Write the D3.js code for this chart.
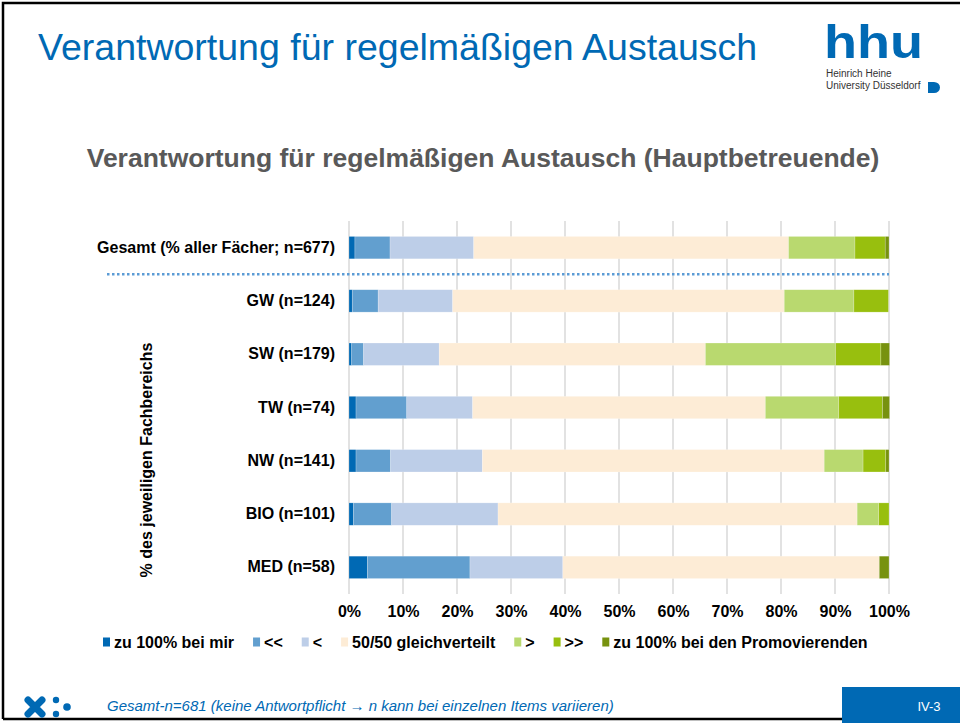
<!DOCTYPE html>
<html>
<head>
<meta charset="utf-8">
<script src="https://cdn.jsdelivr.net/npm/d3@7"></script>
<style>
  body { margin: 0; background: #fff; }
  text { font-family: "Liberation Sans", Arial, sans-serif; }
</style>
</head>
<body>
<div id="chart"></div>
<script>
const categories = ['Gesamt (% aller Fächer; n=677)', 'GW (n=124)', 'SW (n=179)', 'TW (n=74)', 'NW (n=141)', 'BIO (n=101)', 'MED (n=58)'];
const seriesNames = ['zu 100% bei mir', '<<', '<', '50/50 gleichverteilt', '>', '>>', 'zu 100% bei den Promovierenden'];
const seriesColors = ['#0069b4', '#629fcf', '#bdcee8', '#fdecd6', '#b9d96f', '#98bf0e', '#77920f'];
const vollMir = [1.1, 0.6, 0.5, 1.3, 1.3, 0.8, 3.4];
const vielMehrMir = [6.5, 4.8, 2.2, 9.4, 6.4, 7.1, 19.0];
const mehrMir = [15.5, 13.8, 14.0, 12.2, 17.0, 19.7, 17.2];
const gleich = [58.3, 61.4, 49.3, 54.2, 63.3, 66.5, 58.6];
const mehrProm = [12.3, 12.9, 24.1, 13.6, 7.2, 4.0, 0];
const vielMehrProm = [5.6, 6.4, 8.4, 8.1, 4.2, 1.9, 0];
const vollProm = [0.7, 0, 1.6, 1.3, 0.6, 0, 1.8];
const xTicks = [0, 10, 20, 30, 40, 50, 60, 70, 80, 90, 100];

const allSeries = [vollMir, vielMehrMir, mehrMir, gleich, mehrProm, vielMehrProm, vollProm];
const rows = categories.map((c, i) => {
  const r = { cat: c };
  seriesNames.forEach((s, j) => { r[s] = allSeries[j][i]; });
  return r;
});

const width = 960;
const height = 723;
const blue = '#0069b4';

const svg = d3.select('#chart').append('svg')
  .attr('width', width)
  .attr('height', height);

// slide frame (left, top, bottom)
svg.append('path')
  .attr('d', 'M3,719 L3,3 L960,3 M3,719 L842,719')
  .style('fill', 'none')
  .style('stroke', '#000')
  .style('stroke-width', 2.5);

// slide heading
svg.append('text')
  .attr('x', 38).attr('y', 60)
  .style('font-size', '37.5px')
  .style('fill', blue)
  .text('Verantwortung für regelmäßigen Austausch');

// logo
const logo = svg.append('g');
logo.append('text')
  .attr('x', 824).attr('y', 58)
  .attr('textLength', 99).attr('lengthAdjust', 'spacingAndGlyphs')
  .style('font-size', '46px').style('font-weight', 'bold')
  .style('fill', blue)
  .text('hhu');
logo.append('text')
  .attr('x', 826).attr('y', 77)
  .style('font-size', '10px').style('fill', '#333')
  .text('Heinrich Heine');
logo.append('text')
  .attr('x', 826).attr('y', 89)
  .style('font-size', '10px').style('fill', '#333')
  .text('University Düsseldorf');
logo.append('path')
  .attr('d', 'M928,82 L934,82 A6,5.5 0 0 1 934,93 L928,93 Z')
  .style('fill', blue);

// chart title
svg.append('text')
  .attr('x', 483).attr('y', 167)
  .attr('text-anchor', 'middle')
  .style('font-size', '26.5px').style('font-weight', 'bold')
  .style('fill', '#595959')
  .text('Verantwortung für regelmäßigen Austausch (Hauptbetreuende)');

const margin = { top: 221, left: 349, right: 71, bottom: 129 };
const plotW = width - margin.left - margin.right;
const plotH = height - margin.top - margin.bottom;

const xScale = d3.scaleLinear().domain([0, 100]).range([0, plotW]);
const yScale = d3.scaleBand().domain(categories).range([0, plotH])
  .paddingInner(0.58).paddingOuter(0.29);

const g = svg.append('g')
  .attr('transform', `translate(${margin.left},${margin.top})`);

// gridlines
g.append('g')
  .selectAll('line')
  .data(xTicks)
  .enter()
  .append('line')
  .attr('x1', d => xScale(d)).attr('x2', d => xScale(d))
  .attr('y1', 0).attr('y2', plotH)
  .style('stroke', '#d9d9d9')
  .style('stroke-width', 1.5);

// stacked bars
const stack = d3.stack().keys(seriesNames);
const layers = stack(rows);

g.append('g')
  .selectAll('g')
  .data(layers)
  .enter()
  .append('g')
  .style('fill', (d, i) => seriesColors[i])
  .selectAll('rect')
  .data(d => d)
  .enter()
  .append('rect')
  .attr('x', d => xScale(d[0]))
  .attr('width', d => xScale(d[1]) - xScale(d[0]))
  .attr('y', d => yScale(d.data.cat))
  .attr('height', yScale.bandwidth())
  .style('stroke', '#fff')
  .style('stroke-opacity', 0.35)
  .style('stroke-width', 0.6);

// dotted separator after Gesamt
const sepY = (yScale(categories[0]) + yScale.bandwidth() + yScale(categories[1])) / 2;
g.append('line')
  .attr('x1', 107 - margin.left).attr('x2', plotW)
  .attr('y1', sepY).attr('y2', sepY)
  .style('stroke', '#5b9bd5')
  .style('stroke-width', 2.5)
  .style('stroke-dasharray', '2.5,2.5');

// category labels
const yAxis = d3.axisLeft(yScale).tickSize(0).tickPadding(14);
g.append('g')
  .attr('class', 'y axis')
  .call(yAxis)
  .call(a => a.select('.domain').remove())
  .selectAll('text')
  .style('font-size', '16px').style('font-weight', 'bold')
  .style('font-family', '"Liberation Sans", Arial, sans-serif')
  .style('fill', '#000');

// x axis tick labels
const xAxis = d3.axisBottom(xScale).tickValues(xTicks).tickSize(0).tickPadding(12)
  .tickFormat(d => `${d}%`);
g.append('g')
  .attr('class', 'x axis')
  .attr('transform', `translate(0,${plotH})`)
  .call(xAxis)
  .call(a => a.select('.domain').remove())
  .selectAll('text')
  .style('font-size', '16px').style('font-weight', 'bold')
  .style('font-family', '"Liberation Sans", Arial, sans-serif')
  .style('fill', '#000');

// y axis title
svg.append('text')
  .attr('transform', 'translate(152,460) rotate(-90)')
  .attr('text-anchor', 'middle')
  .style('font-size', '16px').style('font-weight', 'bold')
  .text('% des jeweiligen Fachbereichs');

// legend
const legend = svg.append('g').attr('transform', 'translate(103,642)');
let lx = 0;
seriesNames.forEach((s, i) => {
  const item = legend.append('g').attr('transform', `translate(${lx},0)`);
  item.append('rect')
    .attr('x', 0).attr('y', -4.5)
    .attr('width', 7).attr('height', 9)
    .style('fill', seriesColors[i]);
  const t = item.append('text')
    .attr('x', 11).attr('y', 5.5)
    .style('font-size', '16px').style('font-weight', 'bold')
    .text(s);
  lx += 11 + t.node().getComputedTextLength() + 19;
});

// footer
const icon = svg.append('g').style('fill', blue).style('stroke', blue);
icon.append('path')
  .attr('d', 'M28,700 L42,714 M42,700 L28,714')
  .style('stroke-width', 7).style('stroke-linecap', 'round');
icon.append('circle').attr('cx', 56).attr('cy', 700).attr('r', 3.2).style('stroke', 'none');
icon.append('circle').attr('cx', 67).attr('cy', 707).attr('r', 3.8).style('stroke', 'none');
icon.append('circle').attr('cx', 56).attr('cy', 714).attr('r', 3.2).style('stroke', 'none');

svg.append('text')
  .attr('x', 107).attr('y', 711)
  .style('font-size', '15px').style('font-style', 'italic')
  .style('fill', blue)
  .text('Gesamt-n=681 (keine Antwortpflicht → n kann bei einzelnen Items variieren)');

svg.append('rect')
  .attr('x', 842).attr('y', 687)
  .attr('width', 118).attr('height', 36)
  .style('fill', blue);
svg.append('text')
  .attr('x', 929).attr('y', 711)
  .attr('text-anchor', 'middle')
  .style('font-size', '13px').style('fill', '#fff')
  .text('IV-3');
</script>
</body>
</html>
